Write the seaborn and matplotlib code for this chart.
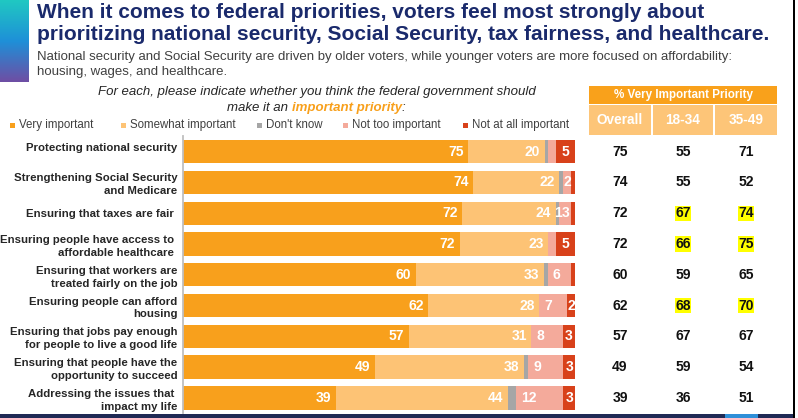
import numpy as np
import pandas as pd
import seaborn as sns
import matplotlib.pyplot as plt
import matplotlib.transforms as mtransforms
from matplotlib.colors import LinearSegmentedColormap
from matplotlib.patches import Rectangle

# Data
priorities = [
    "Protecting national security\n",
    "Strengthening Social Security\nand Medicare",
    "Ensuring that taxes are fair ",
    "Ensuring people have access to \naffordable healthcare ",
    "Ensuring that workers are\ntreated fairly on the job",
    "Ensuring people can afford\nhousing",
    "Ensuring that jobs pay enough\nfor people to live a good life",
    "Ensuring that people have the\nopportunity to succeed",
    "Addressing the issues that \nimpact my life",
]
very_important = [75, 74, 72, 72, 60, 62, 57, 49, 39]
somewhat_important = [20, 22, 24, 23, 33, 28, 31, 38, 44]
dont_know = [1, 1, 1, 0, 1, 0, 0, 1, 2]
not_too_important = [2, 2, 3, 2, 6, 7, 8, 9, 12]
not_at_all_important = [5, 1, 1, 5, 1, 2, 3, 3, 3]

# which small segments carry a label on the slide
dk_labels = ["", "", "1", "", "", "", "", "", ""]
not_too_labels = ["", "2", "3", "", "6", "7", "8", "9", "12"]
not_at_all_labels = ["5", "", "", "5", "", "2", "3", "3", "3"]

# % very important table
table_cols = ["Overall", "18-34", "35-49"]
overall = [75, 74, 72, 72, 60, 62, 57, 49, 39]
age_18_34 = [55, 55, 67, 66, 59, 68, 67, 59, 36]
age_35_49 = [71, 52, 74, 75, 65, 70, 67, 54, 51]
hl_18_34 = [False, False, True, True, False, True, False, False, False]
hl_35_49 = [False, False, True, True, False, True, False, False, False]

segments = ["Very important", "Somewhat important", "Don't know",
            "Not too important", "Not at all important"]
colors = ["#F8A01C", "#FDC375", "#A6A6A6", "#F4AA9B", "#D8411A"]

sns.set_style("white")
plt.rcParams['font.family'] = ['Liberation Sans', 'DejaVu Sans']

df = pd.DataFrame({
    "Very important": very_important,
    "Somewhat important": somewhat_important,
    "Don't know": dont_know,
    "Not too important": not_too_important,
    "Not at all important": not_at_all_important,
}, index=priorities)
# the slide is a 100% stacked chart
pct = df.div(df.sum(axis=1), axis=0) * 100
cum = pct.cumsum(axis=1)

fig = plt.figure(figsize=(7.98, 4.18), dpi=100)
W, H = 798, 418

# overlay in pixel coords for all the slide decoration
deco = fig.add_axes([0, 0, 1, 1])
deco.set_xlim(0, W)
deco.set_ylim(H, 0)
deco.axis("off")

ax = fig.add_axes([183 / W, 1 - 413.3 / H, 392 / W, 277 / H])

# stacked bars: draw the running totals from the widest down
for seg, col in zip(segments[::-1], colors[::-1]):
    sns.barplot(x=cum[seg].values, y=priorities, orient="h", color=col,
                saturation=1, width=0.76, linewidth=0, ax=ax)

ax.set_xlim(0, 100)
ax.set_ylim(8.5, -0.5)
ax.set_xlabel("")
ax.set_ylabel("")
ax.set_xticks([])
for s in ["top", "right", "bottom"]:
    ax.spines[s].set_visible(False)
ax.spines["left"].set_color("#BFBFBF")
ax.spines["left"].set_linewidth(1.3)
ax.tick_params(axis="y", length=0, pad=4)
for lbl in ax.get_yticklabels():
    lbl.set_fontsize(8.2)
    lbl.set_fontweight("bold")
    lbl.set_multialignment("right")
    lbl.set_linespacing(1.35)

# value labels
lab = dict(color="white", fontweight="bold", fontsize=10, va="center")
for i in range(len(priorities)):
    v_end = cum["Very important"].iloc[i]
    s_end = cum["Somewhat important"].iloc[i]
    d_end = cum["Don't know"].iloc[i]
    n_end = cum["Not too important"].iloc[i]
    ax.text(v_end - 1.2, i, str(very_important[i]), ha="right", **lab)
    ax.text(s_end - 1.2, i, str(somewhat_important[i]), ha="right", **lab)
    if dk_labels[i]:
        ax.text((s_end + d_end) / 2, i, dk_labels[i], ha="center", **lab)
    if not_too_labels[i]:
        w = n_end - d_end
        if w < 5:
            ax.text((d_end + n_end) / 2, i, not_too_labels[i], ha="center", **lab)
        else:
            ax.text(d_end + 1.3, i, not_too_labels[i], ha="left", **lab)
    if not_at_all_labels[i]:
        ax.text((n_end + 100) / 2, i, not_at_all_labels[i], ha="center", **lab)

# left gradient strip
grad = LinearSegmentedColormap.from_list("strip", ["#20C8C2", "#1E90D8", "#6E4EA4"])
deco.imshow(np.linspace(0, 1, 100).reshape(-1, 1), cmap=grad, aspect="auto",
            extent=[0, 29, 82, 0], zorder=1)
deco.set_xlim(0, W)
deco.set_ylim(H, 0)

# titles
navy = "#1A2A6C"
deco.text(37, 13, "When it comes to federal priorities, voters feel most strongly about",
          fontsize=15, fontweight="bold", color=navy, va="center", ha="left")
deco.text(37, 35, "prioritizing national security, Social Security, tax fairness, and healthcare.",
          fontsize=15, fontweight="bold", color=navy, va="center", ha="left")
deco.text(37, 57, "National security and Social Security are driven by older voters, "
          "while younger voters are more focused on affordability:",
          fontsize=9.5, color="#404040", va="center", ha="left")
deco.text(37, 72, "housing, wages, and healthcare.", fontsize=9.5, color="#404040",
          va="center", ha="left")

# question
deco.text(317, 92, "For each, please indicate whether you think the federal government should",
          fontsize=9.5, style="italic", color="#262626", ha="center", va="center")
t1 = deco.text(227, 108, "make it an ", fontsize=9.5, style="italic", color="#262626",
               ha="left", va="center")
t2 = deco.annotate("important priority", xycoords=t1, xy=(1, 0), va="bottom",
                   fontsize=9.5, style="italic", fontweight="bold", color="#F8A01C")
deco.annotate(":", xycoords=t2, xy=(1, 0), va="bottom", fontsize=9.5,
              style="italic", color="#262626")

# legend
leg_x = [10, 121, 257, 343, 463]
for x0, seg, col in zip(leg_x, segments, colors):
    deco.add_patch(Rectangle((x0, 122.5), 4.5, 5, color=col, lw=0))
    deco.text(x0 + 9, 125, seg, fontsize=8.3, color="#404040", va="center", ha="left")

# table header
orange = "#F9A11B"
light = "#FDC578"
deco.add_patch(Rectangle((589, 86), 188, 18, color=orange, lw=0))
deco.text(683, 95, "% Very Important Priority", color="white", fontweight="bold",
          fontsize=8.4, ha="center", va="center")
cells = [(589, 62), (653, 60), (715, 62)]
for (x0, w), name in zip(cells, table_cols):
    deco.add_patch(Rectangle((x0, 105), w, 30, color=light, lw=0))
    deco.text(x0 + w / 2, 120, name, color="white", fontweight="bold",
              fontsize=9.8, ha="center", va="center")

# table values, rows follow the bar axis
tr = mtransforms.blended_transform_factory(deco.transData, ax.transData)
col_x = [620, 683, 746]
for i in range(len(priorities)):
    vals = [overall[i], age_18_34[i], age_35_49[i]]
    hls = [False, hl_18_34[i], hl_35_49[i]]
    for x0, v, h in zip(col_x, vals, hls):
        bbox = dict(boxstyle="square,pad=0.05", fc="#FFFF00", ec="none") if h else None
        ax.text(x0, i, str(v), transform=tr, fontsize=10, fontweight="bold",
                color="#111111", ha="center", va="center", bbox=bbox, clip_on=False)

# slide frame bits
deco.add_patch(Rectangle((792.5, 0), 2.5, H, color="black", lw=0))
deco.add_patch(Rectangle((0, 413.5), 793, 5, color="#1F2A55", lw=0))
deco.add_patch(Rectangle((725, 413.5), 33, 5, color="#2E8FD8", lw=0))

fig.savefig("out.png", dpi=100)
